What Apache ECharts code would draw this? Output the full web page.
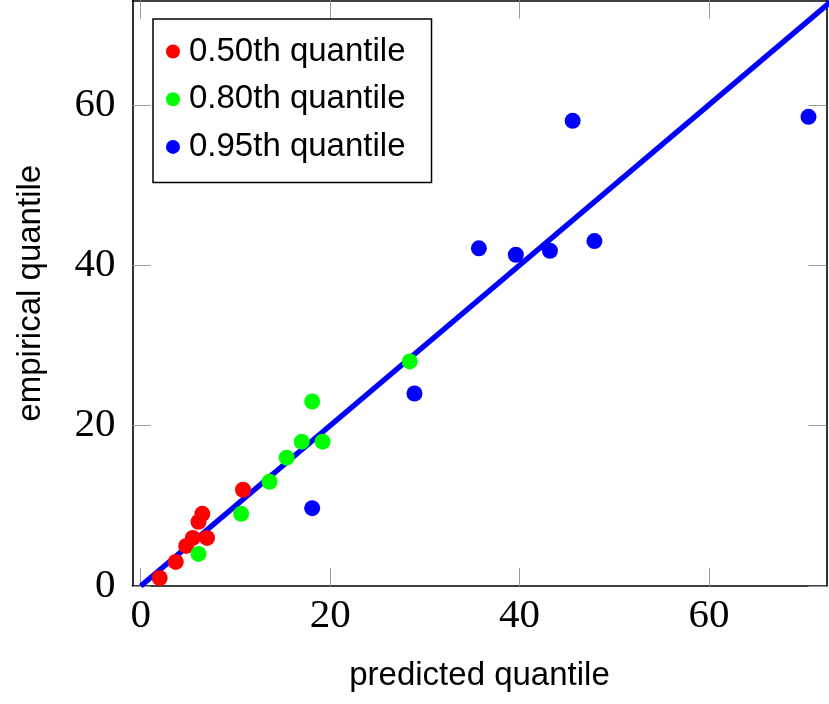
<!DOCTYPE html>
<html>
<head>
<meta charset="utf-8">
<script src="https://cdn.jsdelivr.net/npm/echarts@6/dist/echarts.min.js"></script>
<style>
html, body { margin: 0; padding: 0; background: #fff; }
#chart { width: 829px; height: 704px; }
</style>
</head>
<body>
<div id="chart"></div>
<script>
"use strict";
// [predicted, empirical] pairs per quantile level
const q50 = [[2.0, 1], [3.7, 3], [4.8, 5], [5.5, 6], [7.0, 6], [6.1, 8], [6.5, 9], [10.8, 12]];
const q80 = [[6.1, 4], [10.6, 9], [13.6, 13], [15.4, 16], [17.0, 18], [19.2, 18], [18.1, 23], [28.4, 28]];
const q95 = [[18.1, 9.7], [28.9, 24], [35.7, 42.1], [39.6, 41.3], [43.2, 41.8], [47.9, 43], [45.6, 58], [70.5, 58.5]];
const seriesNames = ["0.50th quantile", "0.80th quantile", "0.95th quantile"];
const xTicks = [0, 20, 40, 60];
const yTicks = [0, 20, 40, 60];
const diagonal = [0, 75];

const serif = "'Liberation Serif', 'DejaVu Serif', serif";
const sans = "'Liberation Sans', Arial, sans-serif";
const xRange = { min: -0.87, max: 72.4 };
const yRange = { min: 0, max: 73.0 };

const tickStyle = { show: true, inside: true, length: 18, lineStyle: { color: "#999", width: 1 } };
const lineStyle = { show: true, lineStyle: { color: "#000", width: 1.6 } };

const chart = echarts.init(document.getElementById("chart"), null, { renderer: "canvas" });
chart.setOption({
    animation: false,
    backgroundColor: "#fff",
    grid: { left: 132.5, right: 2.5, top: 0.5, bottom: 118 },
    legend: {
        data: seriesNames,
        orient: "vertical",
        left: 153,
        top: 19,
        icon: "circle",
        itemWidth: 14,
        itemHeight: 14,
        itemGap: 14.7,
        padding: [16, 26, 19, 13],
        borderColor: "#000",
        borderWidth: 1.5,
        backgroundColor: "#fff",
        textStyle: { fontFamily: sans, fontSize: 33, lineHeight: 32, color: "#000", padding: [0, 0, 0, 4] },
    },
    xAxis: [
        {
            type: "value", position: "bottom", ...xRange,
            name: "predicted quantile", nameLocation: "middle", nameGap: 73,
            nameTextStyle: { fontFamily: sans, fontSize: 33, color: "#000" },
            axisLine: { ...lineStyle, onZero: false },
            axisTick: { ...tickStyle, customValues: xTicks },
            axisLabel: { customValues: xTicks, margin: 10, fontFamily: serif, fontSize: 41, color: "#000" },
            splitLine: { show: false },
        },
        {
            type: "value", position: "top", ...xRange,
            axisLine: { ...lineStyle, onZero: false },
            axisTick: { ...tickStyle, customValues: xTicks },
            axisLabel: { show: false },
            splitLine: { show: false },
        },
    ],
    yAxis: [
        {
            type: "value", position: "left", ...yRange,
            name: "empirical quantile", nameLocation: "middle", nameGap: 85,
            nameTextStyle: { fontFamily: sans, fontSize: 33, color: "#000" },
            axisLine: { ...lineStyle, onZero: false },
            axisTick: { ...tickStyle, customValues: yTicks },
            axisLabel: { customValues: yTicks, margin: 17, fontFamily: serif, fontSize: 41, color: "#000" },
            splitLine: { show: false },
        },
        {
            type: "value", position: "right", ...yRange,
            axisLine: { ...lineStyle, onZero: false },
            axisTick: { ...tickStyle, customValues: yTicks },
            axisLabel: { show: false },
            splitLine: { show: false },
        },
    ],
    series: [
        {
            name: "fit",
            type: "line",
            data: diagonal.map((v) => [v, v]),
            showSymbol: false,
            clip: true,
            lineStyle: { color: "#0000ff", width: 5.5 },
            z: 1,
        },
        { name: seriesNames[0], type: "scatter", data: q50, symbolSize: 16, itemStyle: { color: "#ff0000", opacity: 1 }, z: 3 },
        { name: seriesNames[1], type: "scatter", data: q80, symbolSize: 16, itemStyle: { color: "#00ff00", opacity: 1 }, z: 3 },
        { name: seriesNames[2], type: "scatter", data: q95, symbolSize: 16, itemStyle: { color: "#0000ff", opacity: 1 }, z: 3 },
    ],
});
</script>
</body>
</html>
